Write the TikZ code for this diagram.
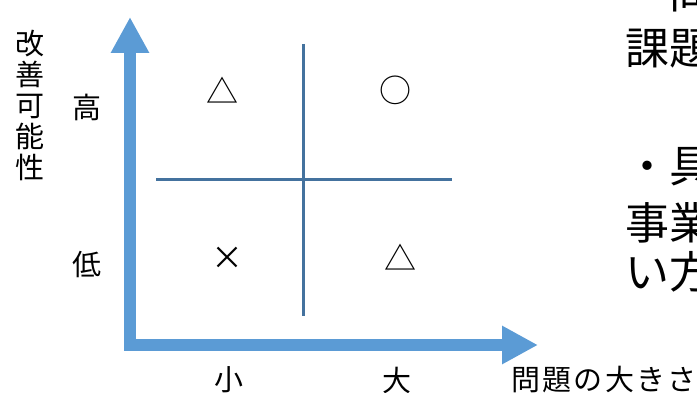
\documentclass[tikz,border=0pt]{standalone}
\usepackage{fontspec}
\setmainfont{Noto Sans CJK JP}
\usetikzlibrary{arrows.meta, positioning}
\definecolor{axisblue}{RGB}{91,155,213}
\definecolor{gridblue}{RGB}{68,114,158}
\tikzset{
  axis/.style={draw=axisblue, line width=12pt, line join=miter,
    {Triangle[length=36pt,width=36pt]}-{Triangle[length=36pt,width=36pt]}},
  divider/.style={draw=gridblue, line width=3pt},
  symb/.style={inner sep=0pt, font=\fontsize{32}{36}\selectfont},
  lbl/.style={inner sep=0pt, font=\fontsize{29}{31}\selectfont},
  body/.style={inner sep=0pt, anchor=west, font=\fontsize{44}{50}\selectfont}
}
\begin{document}
\begin{tikzpicture}[x=1pt, y=-1pt]
  \useasboundingbox (0,0) rectangle (697,393);

  % axes
  \coordinate (ytip)   at (130,17);
  \coordinate (corner) at (130,345);
  \coordinate (xtip)   at (538,345);
  \draw[axis] (ytip) -- (corner) -- (xtip);

  % quadrants
  \coordinate (vtop) at (303,44);
  \coordinate (vbot) at (303,316);
  \coordinate (hleft)  at (156,180);
  \coordinate (hright) at (452,180);
  \draw[divider] (vtop) -- (vbot);
  \draw[divider] (hleft) -- (hright);

  \node[symb] (tl) at (222,90)  {△};
  \node[symb] (tr) at (395,90)  {○};
  \node[symb] (bl) at (227,258) {×};
  \node[symb] (br) at (400,257) {△};

  % axis labels
  \node[lbl, align=center] (yname) at (30,105) {改\\善\\可\\能\\性};
  \node[lbl] (high) at (87,107) {高};
  \node[lbl] (low)  at (87,265) {低};
  \node[lbl] (small) at (229,380) {小};
  \node[lbl] (large) at (397,380) {大};
  \node[lbl, anchor=west] (xname) at (511,380)
    {\addfontfeatures{LetterSpace=8}問題の大きさ};

  % text on the right
  \node[body] (t1) at (669,-7)  {問};
  \node[body] (t2) at (625,49)  {課題};
  \node[body] (t3) at (625,167) {・具};
  \node[body] (t4) at (625,223) {事業};
  \node[body] (t5) at (625,272) {い方};
\end{tikzpicture}
\end{document}
